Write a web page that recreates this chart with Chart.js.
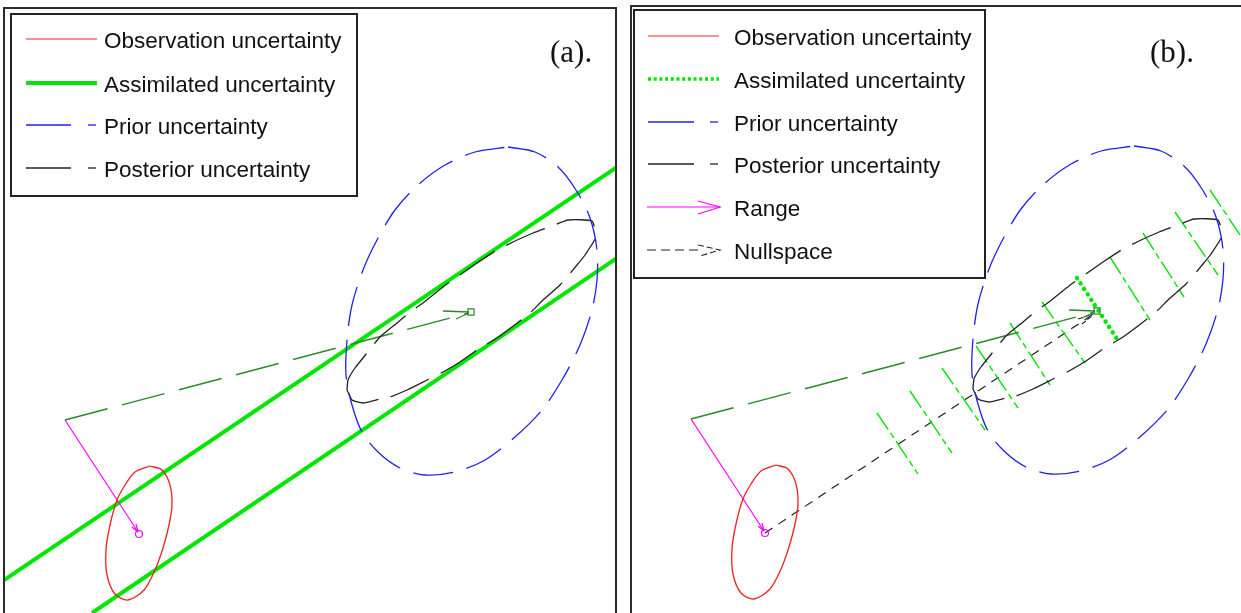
<!DOCTYPE html>
<html>
<head>
<meta charset="utf-8">
<script src="https://cdn.jsdelivr.net/npm/chart.js@4.4.0/dist/chart.umd.min.js"></script>
<style>
html, body { margin: 0; padding: 0; background: #fff; }
#page { position: relative; width: 1241px; height: 613px; overflow: hidden; }
.frame { position: absolute; box-sizing: border-box; border: 2px solid #2b2b2b; }
canvas { position: absolute; }
svg.over { position: absolute; left: 0; top: 0; }
svg text { font-family: "Liberation Sans", Arial, sans-serif; font-size: 22.5px; fill: #111; }
svg text.tag { font-family: "Liberation Serif", "Times New Roman", serif; font-size: 31px; }
</style>
</head>
<body>
<div id="page">
  <div class="frame" style="left:3px;top:7px;width:614px;height:700px"></div>
  <div class="frame" style="left:630px;top:5px;width:700px;height:700px"></div>
  <canvas id="chartA" width="610" height="604" style="left:5px;top:9px"></canvas>
  <canvas id="chartB" width="609" height="606" style="left:632px;top:7px"></canvas>

  <svg class="over" width="1241" height="613">
    <!-- legend (a) -->
    <rect x="11" y="14" width="346" height="182" fill="#fff" stroke="#222" stroke-width="2"/>
    <line x1="26" y1="39" x2="97" y2="39" stroke="#ff2020" stroke-width="1.2"/>
    <text x="104" y="48">Observation uncertainty</text>
    <line x1="26" y1="83" x2="97" y2="83" stroke="#00e600" stroke-width="4"/>
    <text x="104" y="92">Assimilated uncertainty</text>
    <line x1="26" y1="125" x2="71" y2="125" stroke="#2020ee" stroke-width="1.3"/>
    <line x1="88" y1="125" x2="96" y2="125" stroke="#2020ee" stroke-width="1.3"/>
    <text x="104" y="134">Prior uncertainty</text>
    <line x1="26" y1="168" x2="71" y2="168" stroke="#222" stroke-width="1.3"/>
    <line x1="88" y1="168" x2="96" y2="168" stroke="#222" stroke-width="1.3"/>
    <text x="104" y="177">Posterior uncertainty</text>
    <text class="tag" x="550" y="62">(a).</text>

    <!-- legend (b) -->
    <rect x="634" y="10" width="351" height="268" fill="#fff" stroke="#222" stroke-width="2"/>
    <line x1="648" y1="36" x2="719" y2="36" stroke="#ff2020" stroke-width="1.2"/>
    <text x="734" y="45">Observation uncertainty</text>
    <line x1="648" y1="79" x2="719" y2="79" stroke="#00e600" stroke-width="3.5" stroke-dasharray="3 2.7"/>
    <text x="734" y="88">Assimilated uncertainty</text>
    <line x1="648" y1="122" x2="694" y2="122" stroke="#2020ee" stroke-width="1.3"/>
    <line x1="710" y1="122" x2="718" y2="122" stroke="#2020ee" stroke-width="1.3"/>
    <text x="734" y="131">Prior uncertainty</text>
    <line x1="648" y1="164" x2="694" y2="164" stroke="#222" stroke-width="1.3"/>
    <line x1="710" y1="164" x2="718" y2="164" stroke="#222" stroke-width="1.3"/>
    <text x="734" y="173">Posterior uncertainty</text>
    <line x1="647" y1="207" x2="720" y2="207" stroke="#ff00ff" stroke-width="1.2"/>
    <polyline points="698,201 720,207 698,214" fill="none" stroke="#ff00ff" stroke-width="1.2"/>
    <text x="734" y="216">Range</text>
    <line x1="647" y1="250" x2="700" y2="250" stroke="#222" stroke-width="1.2" stroke-dasharray="9 5"/>
    <polyline points="698,245 720,250 700,256" fill="none" stroke="#222" stroke-width="1.1" stroke-dasharray="6 3"/>
    <text x="734" y="259">Nullspace</text>
    <text class="tag" x="1150" y="62">(b).</text>
  </svg>
</div>

<script>
// ===== DATA (diagram coordinates, y grows downward) =====
// observation uncertainty ellipse (red)
const obsX = [150, 162, 170, 172, 169, 163, 155, 144, 128, 115, 107, 106, 110, 117, 125, 135, 150];
const obsY = [466, 470, 485, 505, 525, 548, 570, 590, 600, 594, 575, 550, 525, 500, 485, 472, 466];
const obsCentre = [139, 534];

// prior uncertainty ellipse (blue dashed)
const priorX = [508, 535, 558, 576, 590, 597, 597, 592, 580, 562, 542, 515, 485, 455, 425, 400, 378, 362, 352, 346, 347, 352, 363, 377, 395, 418, 445, 475, 508];
const priorY = [147, 152, 167, 190, 218, 250, 280, 310, 345, 380, 410, 437, 460, 472, 475, 468, 452, 432, 405, 375, 340, 305, 270, 240, 210, 185, 165, 152, 147];
const priorCentre = [471, 312];

// posterior uncertainty ellipse (black dashed)
const postX = [347, 348, 355, 367, 380, 397, 410, 423, 443, 460, 477, 497, 513, 533, 552, 568, 592, 596, 585, 577, 560, 543, 530, 512, 497, 477, 460, 443, 427, 407, 390, 380, 363, 352, 347];
const postY = [390, 380, 368, 353, 337, 323, 312, 303, 287, 275, 263, 250, 242, 233, 226, 220, 221, 237, 255, 265, 285, 300, 313, 327, 338, 350, 362, 372, 380, 390, 397, 399, 403, 400, 390];

// dark green dashed line from the corner to the prior centre, with arrow barbs
const linkX = [65, 469];
const linkY = [420, 313];
const linkBarbX0 = [443, 456], linkBarbY0 = [311, 319];
const linkBarbX1 = [469, 469], linkBarbY1 = [312, 313];

// magenta range arrow
const rangeX = [65, 138];
const rangeY = [420, 532];
const rangeBarbX0 = [136, 132], rangeBarbY0 = [524, 527];
const rangeBarbX1 = [138, 138], rangeBarbY1 = [532, 532];

// (a) assimilated uncertainty band (thick green)
const bandX0 = [4, 92], bandY0 = [580, 613];
const bandX1 = [617, 617], bandY1 = [167, 258];

// (b) nullspace arrow (black dashed)
const nullX = [139, 466];
const nullY = [534, 316];
const nullBarbX0 = [452, 456], nullBarbY0 = [320, 325];
const nullBarbX1 = [467, 467], nullBarbY1 = [315, 316];

// (b) assimilated uncertainty cross-lines (thin dashed green)
const crossX0 = [251, 284, 316, 350, 384, 416, 484, 517, 549, 584];
const crossY0 = [414, 392, 369, 347, 324, 303, 258, 234, 213, 191];
const crossX1 = [292, 326, 359, 392, 424, 459, 524, 558, 592, 626];
const crossY1 = [475, 454, 431, 409, 386, 364, 321, 298, 276, 254];
// (b) the one through the prior centre (thick dotted green)
const dotX = [451, 493];
const dotY = [279, 343];

// ===== HELPERS =====
const pts = (xs, ys) => xs.map((x, i) => ({ x: x, y: ys[i] }));
function segs(x0, y0, x1, y1) {
    const out = [];
    x0.forEach((x, i) => {
        out.push({ x: x, y: y0[i] }, { x: x1[i], y: y1[i] }, { x: null, y: null });
    });
    return out;
}
function line(data, color, width, dash, tension) {
    return {
        data: data, showLine: true, borderColor: color, borderWidth: width,
        borderDash: dash || [], tension: tension || 0, pointRadius: 0,
        fill: false, spanGaps: false
    };
}
function marker(xy, style, r, color) {
    return {
        data: [{ x: xy[0], y: xy[1] }], showLine: false, pointStyle: style,
        pointRadius: r, pointBorderWidth: 1.2, pointBorderColor: color,
        pointBackgroundColor: 'rgba(0,0,0,0)'
    };
}

const RED = '#f02020', BLUE = '#2020ee', BLACK = '#222', DKGREEN = '#2a8a2a',
      GREEN = '#00e600', MAGENTA = '#ff00ff';

function commonSets() {
    return [
        line(pts(priorX, priorY), BLUE, 1.3, [40, 14], 0.3),
        line(pts(postX, postY), BLACK, 1.3, [42, 13], 0.15),
        line(pts(obsX, obsY), RED, 1.3, [], 0.3),
        line(pts(linkX, linkY), DKGREEN, 1.5, [44, 15]),
        line(segs(linkBarbX0, linkBarbY0, linkBarbX1, linkBarbY1), DKGREEN, 1.3),
        line(pts(rangeX, rangeY), MAGENTA, 1.2),
        line(segs(rangeBarbX0, rangeBarbY0, rangeBarbX1, rangeBarbY1), MAGENTA, 1.2),
        marker(obsCentre, 'circle', 3.5, MAGENTA),
        marker(priorCentre, 'rect', 4.3, DKGREEN)
    ];
}

function makeChart(id, sets, xmin, xmax, ymin, ymax) {
    return new Chart(document.getElementById(id), {
        type: 'scatter',
        data: { datasets: sets },
        options: {
            responsive: false,
            animation: false,
            layout: { padding: 0, autoPadding: false },
            plugins: { legend: { display: false }, tooltip: { enabled: false } },
            scales: {
                x: { type: 'linear', display: false, min: xmin, max: xmax },
                y: { type: 'linear', display: false, reverse: true, min: ymin, max: ymax }
            }
        }
    });
}

// ===== PANEL (a) =====
const setsA = commonSets().concat([
    line(segs(bandX0, bandY0, bandX1, bandY1), GREEN, 4)
]);
makeChart('chartA', setsA, 5, 615, 9, 613);

// ===== PANEL (b) =====
const setsB = commonSets().concat([
    line(segs(crossX0, crossY0, crossX1, crossY1), GREEN, 1.4, [20, 4, 6, 4]),
    line(pts(dotX, dotY), GREEN, 4.5, [0.01, 6.5]),
    line(pts(nullX, nullY), BLACK, 1.2, [9, 7]),
    line(segs(nullBarbX0, nullBarbY0, nullBarbX1, nullBarbY1), BLACK, 1.1, [5, 2])
]);
setsB[setsB.length - 3].borderCapStyle = 'round';
makeChart('chartB', setsB, 6, 615, 8, 614);
</script>
</body>
</html>
